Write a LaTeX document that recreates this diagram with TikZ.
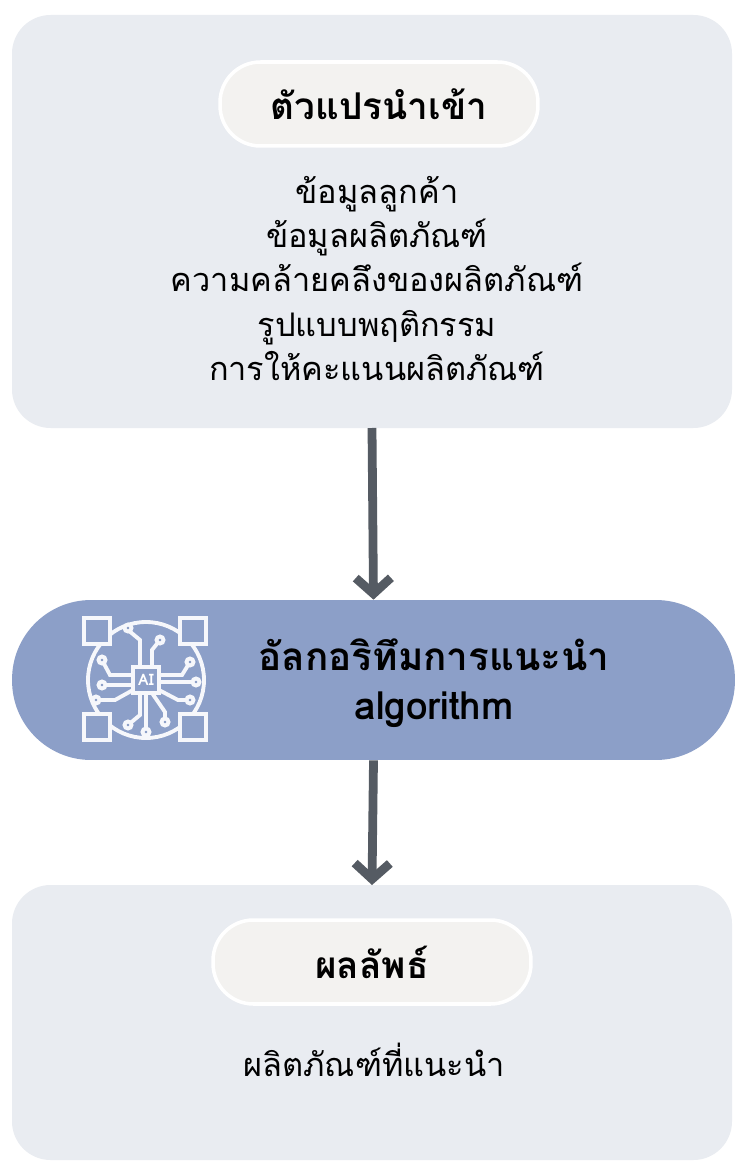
\documentclass[tikz,border=0pt]{standalone}
\usepackage{fontspec}
\setmainfont[Script=Thai]{Loma}
\usetikzlibrary{positioning,arrows.meta}
\definecolor{panelbg}{HTML}{E9ECF1}
\definecolor{pillbg}{HTML}{F3F2F0}
\definecolor{algobg}{HTML}{8C9FC8}
\definecolor{arrowgray}{HTML}{555B63}
\tikzset{
  panel/.style={draw=none, fill=panelbg, rounded corners=22pt},
  pill/.style={rounded corners=23pt, fill=pillbg, draw=white, line width=2pt,
               minimum width=6.36cm, minimum height=1.68cm,
               font=\bfseries\fontsize{21}{24}\selectfont},
  body/.style={align=center, font=\fontsize{18.5}{25.2}\selectfont},
  flow/.style={-{Straight Barb[length=9pt,width=20pt]}, line width=5pt, draw=arrowgray},
  icon/.style={draw=white!92!algobg, line width=2.2pt},
}
\begin{document}
\begin{tikzpicture}[x=0.02cm, y=-0.02cm]
  \useasboundingbox (0,0) rectangle (744,1172);
  \fill[white] (0,0) rectangle (744,1172);

  % panels
  \fill[panel] (12,15) rectangle (732,428);
  \fill[panel] (12,885) rectangle (732,1160);
  \node[fill=algobg, rounded corners=45pt, minimum width=14.46cm, minimum height=3.2cm] (algo) at (373.5,680) {};

  % input panel
  \node[pill] (inhead) at (379,104) {ตัวแปรนำเข้า};
  \node[body, anchor=north] (inbody) at (377,170) {ข้อมูลลูกค้า\\ข้อมูลผลิตภัณฑ์\\ความคล้ายคลึงของผลิตภัณฑ์\\รูปแบบพฤติกรรม\\การให้คะแนนผลิตภัณฑ์};

  % algorithm
  \node[align=center, font=\bfseries\fontsize{22}{28}\selectfont] (algotext) at (434,683) {อัลกอริทึมการแนะนำ\\algorithm};

  % output panel
  \node[pill] (outhead) at (372,962) {ผลลัพธ์};
  \node[body] (outbody) at (374,1060) {ผลิตภัณฑ์ที่แนะนำ};

  \coordinate (intop) at (372,428);
  \coordinate (outtop) at (372,885);
  \draw[flow] (intop) -- (algo.north);
  \draw[flow] (algo.south) -- (outtop);

  % icon
  \begin{scope}[icon]
    \draw (146,680) circle (58);
    \draw[fill=algobg] (133,667) rectangle (159,693);
    \node[font=\bfseries\fontsize{9}{9}\selectfont, text=white] (ai) at (146,680) {AI};
    \foreach \x/\y in {84/618, 180/618, 84/714, 180/714}
      \draw[fill=algobg] (\x,\y) rectangle ++(26,26);
    \draw (140,667) -- (140,640) -- (128,630);
    \draw (152,667) -- (152,650) -- (160,640);
    \draw (140,693) -- (140,715) -- (128,725);
    \draw (146,693) -- (146,730);
    \draw (133,675) -- (110,675) -- (102,660);
    \draw (133,685) -- (104,685);
    \draw (133,690) -- (115,700) -- (98,700);
    \draw (159,675) -- (182,675) -- (190,662);
    \draw (159,682) -- (194,682);
    \draw (159,690) -- (178,700) -- (188,700);
    \draw (152,693) -- (165,712) -- (165,720);
    \foreach \x/\y in {128/628, 160/640, 128/725, 146/732, 102/660, 102/685, 96/700, 190/662, 196/682, 190/700, 165/722}
      \draw[fill=algobg] (\x,\y) circle (3.5);
  \end{scope}
\end{tikzpicture}
\end{document}
